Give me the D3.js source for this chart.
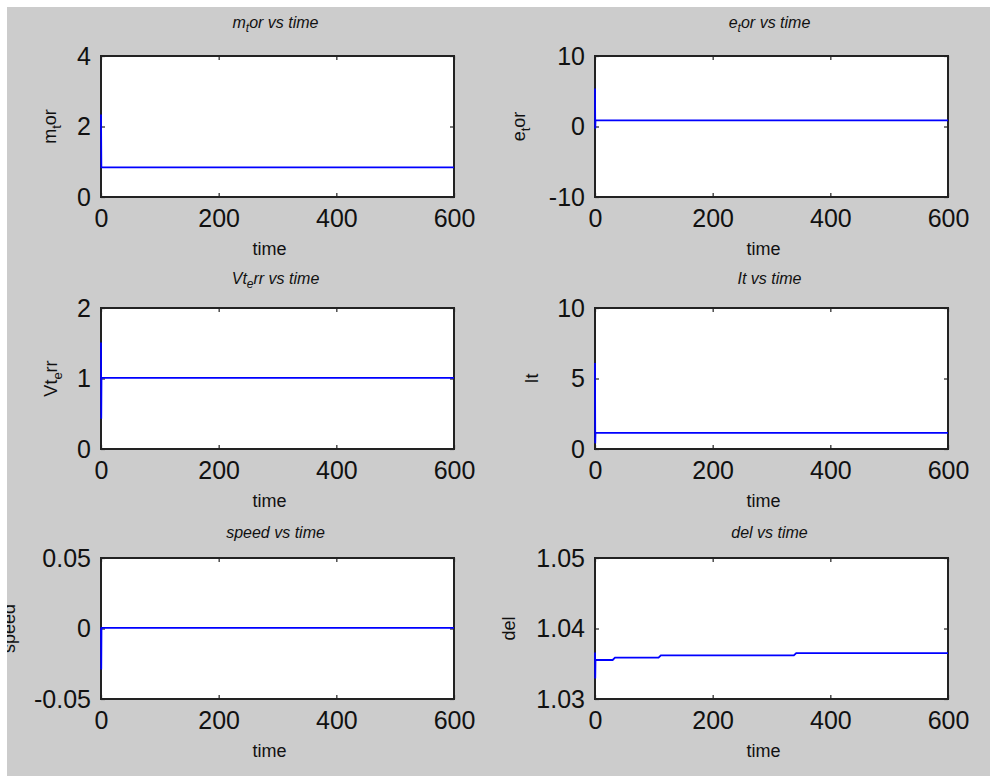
<!DOCTYPE html>
<html>
<head>
<meta charset="utf-8">
<script src="https://cdnjs.cloudflare.com/ajax/libs/d3/7.8.5/d3.min.js"></script>
<style>
  body { margin: 0; background: #fff; }
  svg { display: block; font-family: "Liberation Sans", Arial, sans-serif; }
</style>
</head>
<body>
<script>
var width  = 990;
var height = 776;

// data
var xTicks = [0, 200, 400, 600];

var mtorTime = [0, 0.6, 600];
var mtorVal  = [2.34, 0.84, 0.84];

var etorTime = [0, 0.4, 0.8, 600];
var etorVal  = [5.4, -0.3, 0.86, 0.86];

var vterrTime = [0, 0.4, 0.8, 600];
var vterrVal  = [1.51, 0.43, 1.01, 1.01];

var itTime = [0, 0.4, 0.8, 600];
var itVal  = [6.1, 0.4, 1.15, 1.15];

var speedTime = [0, 0.4, 0.8, 600];
var speedVal  = [0.0, -0.029, 0.0005, 0.0005];

var delTime = [0, 0.4, 0.8, 30, 34, 108, 112, 338, 342, 600];
var delVal  = [1.0366, 1.0329, 1.03553, 1.03553, 1.03586, 1.03586, 1.0362, 1.0362, 1.03652, 1.03652];

var labels  = ['m_tor', 'e_tor', 'Vt_err', 'It', 'speed', 'del'];
var yDomains = [[0, 4], [-10, 10], [0, 2], [0, 10], [-0.05, 0.05], [1.03, 1.05]];
var yTicks  = [[0, 2, 4], [-10, 0, 10], [0, 1, 2], [0, 5, 10], [-0.05, 0, 0.05], [1.03, 1.04, 1.05]];
var series  = [[mtorTime, mtorVal], [etorTime, etorVal], [vterrTime, vterrVal],
               [itTime, itVal], [speedTime, speedVal], [delTime, delVal]];

// layout
var colLeft = [101, 595];
var rowTop  = [56, 308, 558];
var plotW = 353, plotH = 141;
var titleBase = [28, 284, 538];
var yLabelX = [56, 525, 57, 538, 15, 515];

var svg = d3.select('body').append('svg')
    .attr('width', width)
    .attr('height', height);

svg.append('clipPath').attr('id', 'fig')
  .append('rect').attr('x', 7).attr('y', 7).attr('width', width - 7).attr('height', height - 7);

var fig = svg.append('g').attr('clip-path', 'url(#fig)');

fig.append('rect')
  .attr('x', 7).attr('y', 7)
  .attr('width', width - 7).attr('height', height - 7)
  .attr('fill', '#cccccc');

// "a_bc" -> a with subscript b, then c
function texText(sel, str, size) {
  var i = str.indexOf('_');
  if (i < 0) { sel.append('tspan').text(str); return; }
  var sh = Math.round(size * 0.28);
  sel.append('tspan').text(str.slice(0, i));
  sel.append('tspan').attr('dy', sh).attr('font-size', Math.round(size * 0.72)).text(str.charAt(i + 1));
  sel.append('tspan').attr('dy', -sh).text(str.slice(i + 2));
}

labels.forEach(function(name, k) {
  var col = k % 2, row = Math.floor(k / 2);
  var left = colLeft[col], top = rowTop[row];

  var x = d3.scaleLinear().domain([0, 600]).range([0, plotW]);
  var y = d3.scaleLinear().domain(yDomains[k]).range([plotH, 0]);

  var g = fig.append('g').attr('transform', 'translate(' + left + ',' + top + ')');

  g.append('rect')
    .attr('width', plotW).attr('height', plotH)
    .attr('fill', '#fff')
    .attr('stroke', '#222')
    .attr('stroke-width', 2);

  var fmt = function(d) { return String(d); };

  var axes = [
    d3.axisBottom(x).tickValues(xTicks).tickFormat(fmt).tickPadding(12),
    d3.axisTop(x).tickValues(xTicks).tickFormat(''),
    d3.axisLeft(y).tickValues(yTicks[k]).tickFormat(fmt).tickPadding(10),
    d3.axisRight(y).tickValues(yTicks[k]).tickFormat('')
  ];
  var shifts = ['translate(0,' + plotH + ')', null, null, 'translate(' + plotW + ',0)'];

  axes.forEach(function(ax, j) {
    var a = g.append('g')
      .attr('transform', shifts[j])
      .call(ax.tickSize(-4));
    a.select('.domain').remove();
    a.selectAll('line').attr('stroke', '#222').attr('stroke-width', 1.2);
    a.selectAll('text')
      .attr('fill', '#111')
      .attr('font-size', 25)
      .attr('font-family', '"Liberation Sans", Arial, sans-serif');
  });

  var line = d3.line()
    .x(function(d) { return x(d[0]); })
    .y(function(d) { return y(d[1]); });

  // the curve sits on top of the frame, as in the original
  g.append('path')
    .datum(d3.zip(series[k][0], series[k][1]))
    .attr('d', line)
    .attr('fill', 'none')
    .attr('stroke', '#0000ff')
    .attr('stroke-width', 1.8);

  // title
  var t = fig.append('text')
    .attr('x', left + plotW / 2 - 2)
    .attr('y', titleBase[row])
    .attr('text-anchor', 'middle')
    .attr('font-size', 16)
    .attr('font-style', 'italic')
    .attr('fill', '#111');
  texText(t, name + ' vs time', 16);

  // x label
  fig.append('text')
    .attr('x', left + plotW / 2 - 8)
    .attr('y', top + plotH + 58)
    .attr('text-anchor', 'middle')
    .attr('font-size', 18)
    .attr('fill', '#111')
    .text('time');

  // y label (the speed one runs off the figure's left edge, as in the original)
  var yl = fig.append('text')
    .attr('transform', 'translate(' + yLabelX[k] + ',' + (top + plotH / 2) + ') rotate(-90)')
    .attr('text-anchor', 'middle')
    .attr('font-size', 18)
    .attr('fill', '#111');
  texText(yl, name, 18);
});
</script>
</body>
</html>
